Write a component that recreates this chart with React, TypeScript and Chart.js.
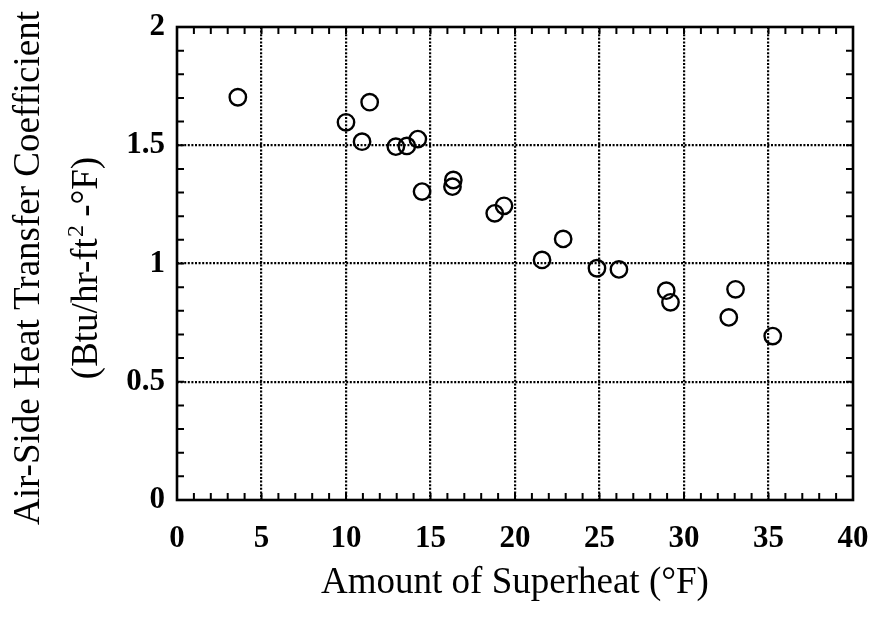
import React, { useEffect, useRef } from "react";
import { Chart, registerables } from "chart.js";

Chart.register(...registerables);

// Data
const superheatF = [3.6, 10.0, 11.4, 10.95, 12.95, 13.6, 14.25, 14.5, 16.35, 16.3, 18.8, 19.35, 21.6, 22.85, 24.85, 26.15, 28.95, 29.2, 33.05, 32.65, 35.25];
const heatTransferCoef = [1.703, 1.597, 1.682, 1.515, 1.494, 1.497, 1.526, 1.304, 1.353, 1.325, 1.212, 1.244, 1.015, 1.104, 0.98, 0.975, 0.885, 0.836, 0.891, 0.772, 0.693];

const xTickValues = [0, 5, 10, 15, 20, 25, 30, 35, 40];
const xTickLabels = ["0", "5", "10", "15", "20", "25", "30", "35", "40"];
const yTickValues = [0, 0.5, 1, 1.5, 2];
const yTickLabels = ["0", "0.5", "1", "1.5", "2"];

const xTitle = "Amount of Superheat (°F)";
const yTitleLine1 = "Air-Side Heat Transfer Coefficient";
const yTitleLine2Parts = ["(Btu/hr-ft", "2", " -°F)"];

const SERIF = "'Liberation Serif', 'Times New Roman', serif";

const framePlugin = {
  id: "framePlugin",
  afterDraw(chart: any) {
    const { ctx, chartArea } = chart;
    const xs = chart.scales.x;
    const ys = chart.scales.y;
    const { left, right, top, bottom } = chartArea;
    ctx.save();
    ctx.strokeStyle = "#000";
    // minor ticks
    ctx.lineWidth = 2;
    const tl = 7;
    ctx.beginPath();
    for (let v = 1; v < 40; v++) {
      const px = xs.getPixelForValue(v);
      ctx.moveTo(px, bottom);
      ctx.lineTo(px, bottom - tl);
      ctx.moveTo(px, top);
      ctx.lineTo(px, top + tl);
    }
    for (let i = 1; i < 20; i++) {
      const py = ys.getPixelForValue(i / 10);
      ctx.moveTo(left, py);
      ctx.lineTo(left + tl, py);
      ctx.moveTo(right, py);
      ctx.lineTo(right - tl, py);
    }
    ctx.stroke();
    // frame
    ctx.lineWidth = 2.6;
    ctx.strokeRect(left, top, right - left, bottom - top);

    // titles
    ctx.fillStyle = "#000";
    ctx.font = `37px ${SERIF}`;
    ctx.textAlign = "center";
    ctx.textBaseline = "alphabetic";
    ctx.fillText(xTitle, (left + right) / 2, 593);

    const cy = 268;
    ctx.save();
    ctx.translate(39, cy);
    ctx.rotate(-Math.PI / 2);
    ctx.font = `37px ${SERIF}`;
    ctx.fillText(yTitleLine1, 0, 0);
    ctx.restore();

    ctx.save();
    ctx.translate(97, cy);
    ctx.rotate(-Math.PI / 2);
    ctx.textAlign = "left";
    const big = `37px ${SERIF}`;
    const small = `24px ${SERIF}`;
    ctx.font = big;
    const w0 = ctx.measureText(yTitleLine2Parts[0]).width;
    const w2 = ctx.measureText(yTitleLine2Parts[2]).width;
    ctx.font = small;
    const w1 = ctx.measureText(yTitleLine2Parts[1]).width;
    let x0 = -(w0 + w1 + w2) / 2;
    ctx.font = big;
    ctx.fillText(yTitleLine2Parts[0], x0, 0);
    x0 += w0;
    ctx.font = small;
    ctx.fillText(yTitleLine2Parts[1], x0 + 1, -14);
    x0 += w1;
    ctx.font = big;
    ctx.fillText(yTitleLine2Parts[2], x0, 0);
    ctx.restore();

    ctx.restore();
  },
};

export default function App() {
  const ref = useRef<HTMLCanvasElement | null>(null);
  useEffect(() => {
    if (!ref.current) return;
    const chart = new Chart(ref.current, {
      type: "scatter",
      data: {
        datasets: [
          {
            data: superheatF.map((x, i) => ({ x, y: heatTransferCoef[i] })),
            pointStyle: "circle",
            pointRadius: 8.2,
            pointHoverRadius: 8.2,
            borderColor: "#000",
            backgroundColor: "rgba(0,0,0,0)",
            borderWidth: 2.4,
            pointBorderWidth: 2.4,
          },
        ],
      },
      plugins: [framePlugin],
      options: {
        animation: false,
        responsive: true,
        maintainAspectRatio: false,
        layout: { padding: { top: 27, right: 19, left: 0, bottom: 0 } },
        plugins: { legend: { display: false }, tooltip: { enabled: false } },
        scales: {
          x: {
            type: "linear",
            min: 0,
            max: 40,
            afterFit: (s: any) => {
              s.height = 121;
              s.paddingLeft = 0;
              s.paddingRight = 0;
            },
            afterBuildTicks: (s: any) => {
              s.ticks = xTickValues.map((v) => ({ value: v }));
            },
            ticks: {
              color: "#000",
              padding: 20,
              maxRotation: 0,
              autoSkip: false,
              font: { family: SERIF, size: 31, weight: "bold" },
              callback: (v: any) => {
                const i = xTickValues.indexOf(Number(v));
                return i >= 0 ? xTickLabels[i] : "";
              },
            },
            grid: {
              color: (c: any) => {
                const v = c.tick ? c.tick.value : null;
                return v === null || v === 0 || v === 40 ? "rgba(0,0,0,0)" : "#000";
              },
              lineWidth: 2.2,
              drawTicks: false,
              tickLength: 0,
            },
            border: { display: false, dash: [2, 1.6] },
          },
          y: {
            type: "linear",
            min: 0,
            max: 2,
            afterFit: (s: any) => {
              s.width = 177;
              s.paddingTop = 0;
              s.paddingBottom = 0;
            },
            afterBuildTicks: (s: any) => {
              s.ticks = yTickValues.map((v) => ({ value: v }));
            },
            ticks: {
              color: "#000",
              padding: 12,
              autoSkip: false,
              font: { family: SERIF, size: 31, weight: "bold" },
              callback: (v: any) => {
                const i = yTickValues.indexOf(Number(v));
                return i >= 0 ? yTickLabels[i] : "";
              },
            },
            grid: {
              color: (c: any) => {
                const v = c.tick ? c.tick.value : null;
                return v === null || v === 0 || v === 2 ? "rgba(0,0,0,0)" : "#000";
              },
              lineWidth: 2.2,
              drawTicks: false,
              tickLength: 0,
            },
            border: { display: false, dash: [2, 1.6] },
          },
        },
      },
    } as any);
    return () => chart.destroy();
  }, []);
  return (
    <div style={{ position: "absolute", left: 0, top: 0, width: 872, height: 621, background: "#fff" }}>
      <canvas ref={ref} />
    </div>
  );
}
